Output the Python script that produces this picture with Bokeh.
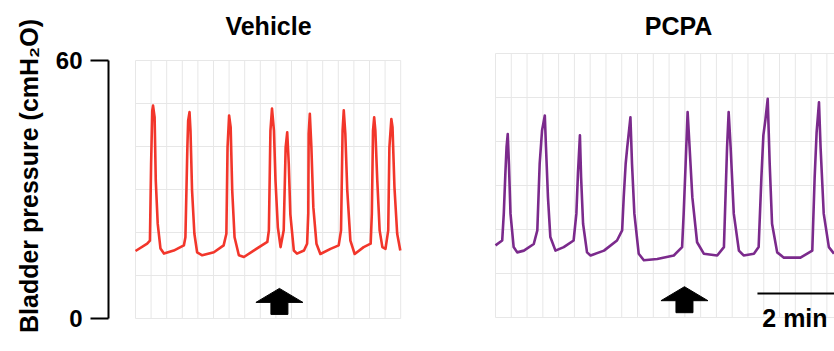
from bokeh.plotting import figure
from bokeh.models import FixedTicker, Label, Range1d
from bokeh.embed import file_html
from bokeh.resources import INLINE

# ---------------- data (time in min, bladder pressure in cmH2O) ----------------
vehicle_time = [0.00, 0.30, 0.37, 0.40, 0.43, 0.45, 0.49, 0.52, 0.57, 0.64, 0.73, 0.98,
                1.24, 1.28, 1.33, 1.35, 1.385, 1.41, 1.45, 1.51, 1.58, 1.71, 2.01,
                2.26, 2.33, 2.36, 2.40, 2.44, 2.48, 2.54, 2.65, 2.78, 3.03,
                3.38, 3.42, 3.46, 3.50, 3.55, 3.59, 3.65, 3.72,
                3.80, 3.85, 3.89, 3.93, 3.97, 4.06, 4.14, 4.32,
                4.40, 4.43, 4.44, 4.47, 4.51, 4.56, 4.64, 4.74, 5.00,
                5.21, 5.27, 5.31, 5.34, 5.38, 5.43, 5.51, 5.62, 5.85,
                6.03, 6.06, 6.09, 6.12, 6.15, 6.20, 6.26, 6.33, 6.41,
                6.48, 6.51, 6.56, 6.59, 6.64, 6.71, 6.79]
vehicle_pressure = [15.7, 17.4, 18.1, 36.0, 48.4, 49.5, 46.8, 32.0, 22.0, 16.3, 15.1, 15.8,
                    17.0, 18.9, 39.8, 46.0, 48.0, 43.7, 29.8, 19.7, 15.4, 14.7, 15.4,
                    17.0, 19.7, 39.8, 47.2, 44.5, 29.8, 18.9, 14.7, 14.3, 15.8,
                    17.8, 20.5, 43.7, 48.8, 43.7, 32.0, 21.2, 16.6,
                    20.5, 39.8, 43.3, 36.0, 24.3, 15.8, 15.1, 15.8,
                    17.4, 24.4, 43.0, 47.6, 39.8, 25.9, 17.4, 15.0, 16.2,
                    17.0, 20.5, 43.7, 48.4, 43.0, 29.8, 18.1, 15.0, 16.6,
                    17.4, 24.4, 43.7, 46.8, 43.7, 32.0, 20.5, 16.6, 16.2,
                    20.5, 39.8, 46.4, 44.5, 30.5, 19.7, 15.8]

pcpa_time = [0.00, 0.17, 0.21, 0.25, 0.28, 0.31, 0.34, 0.38, 0.46, 0.55, 0.72, 0.97,
             1.06, 1.12, 1.18, 1.25, 1.28, 1.33, 1.39, 1.52, 1.73, 1.98,
             2.05, 2.09, 2.14, 2.17, 2.22, 2.32, 2.41, 2.75, 3.08, 3.21,
             3.25, 3.30, 3.34, 3.42, 3.46, 3.52, 3.63, 3.76, 4.10, 4.52, 4.73,
             4.77, 4.82, 4.87, 4.92, 4.99, 5.11, 5.28, 5.62, 5.79,
             5.83, 5.87, 5.91, 5.96, 6.04, 6.17, 6.29, 6.55, 6.67,
             6.74, 6.79, 6.84, 6.90, 6.95, 7.01, 7.14, 7.31, 7.73, 8.03,
             8.09, 8.14, 8.20, 8.24, 8.32, 8.45, 8.58]
pcpa_pressure = [16.4, 17.5, 23.6, 32.7, 38.7, 41.7, 35.0, 23.6, 16.0, 14.8, 15.2, 16.7,
                 19.8, 35.0, 42.5, 45.9, 38.7, 27.3, 18.3, 15.2, 16.0, 17.5,
                 23.6, 32.7, 41.4, 31.8, 21.3, 14.8, 14.1, 15.2, 17.5, 19.8,
                 27.3, 35.0, 38.7, 45.5, 35.0, 23.6, 14.5, 13.0, 13.3, 14.1, 16.0,
                 23.6, 35.0, 46.7, 38.7, 27.3, 17.1, 14.5, 14.1, 16.0,
                 27.3, 38.7, 46.7, 38.7, 23.6, 15.2, 14.1, 14.5, 16.0,
                 31.8, 41.4, 44.8, 49.7, 35.0, 21.3, 14.8, 13.6, 13.6, 15.2,
                 31.8, 42.1, 48.9, 38.7, 23.6, 16.0, 14.5]

panel_titles = ["Vehicle", "PCPA"]
title_time = [3.41, 4.64]         # title centre (min) per panel
drug_time = [3.69, 4.79]          # arrow position (min) per panel
y_ticks = [0, 60]
grid_step_time = 0.4              # min per grid cell
grid_step_pressure = 10
scale_bar_start = 6.64
scale_bar_length = 2.0            # min
scale_bar_text = "2 min"

RED = "#f2362b"
PURPLE = "#7b2a8c"
GRID = "#e7e7e7"
FONT = "Liberation Sans"
CANVAS_H = 351
FRAME_LEFT = 108
FRAME_W = 834 - FRAME_LEFT

# panel geometry (pixels)
L_PX_MIN, L_PX_UNIT, L_ZERO_X, L_ZERO_Y = 39.0, 4.3, 135, 318
R_PX_MIN, R_PX_UNIT, R_ZERO_X, R_ZERO_Y = 39.45, 4.4, 495, 317


def x_range_for(px_min, zero_x):
    lo = -(zero_x - FRAME_LEFT) / px_min
    return Range1d(lo, lo + FRAME_W / px_min)


def y_range_for(px_unit, zero_y):
    lo = -(CANVAS_H - zero_y) / px_unit
    return Range1d(lo, lo + CANVAS_H / px_unit)


p = figure(frame_width=FRAME_W, frame_height=CANVAS_H,
           x_range=x_range_for(L_PX_MIN, L_ZERO_X),
           y_range=y_range_for(L_PX_UNIT, L_ZERO_Y),
           x_axis_location=None, y_axis_location="left",
           toolbar_location=None, output_backend="svg",
           min_border_left=FRAME_LEFT, min_border_right=0,
           min_border_top=0, min_border_bottom=0,
           background_fill_color="white", border_fill_color="white")
p.extra_x_ranges = {"rx": x_range_for(R_PX_MIN, R_ZERO_X)}
p.extra_y_ranges = {"ry": y_range_for(R_PX_UNIT, R_ZERO_Y)}
p.outline_line_color = None
p.xgrid.visible = False
p.ygrid.visible = False


def draw_panel(t, pr, color, title, title_t, arrow_t, px_min, px_unit, t_end, xr, yr):
    names = dict(x_range_name=xr, y_range_name=yr)
    # chart-recorder grid
    n_cols = int(round(t_end / grid_step_time))
    gx = [k * grid_step_time for k in range(n_cols + 1)]
    p.segment(x0=gx, y0=[0] * len(gx), x1=gx, y1=[60] * len(gx),
              line_color=GRID, line_width=1, level="underlay", **names)
    gy = list(range(0, 61, grid_step_pressure))
    p.segment(x0=[0] * len(gy), y0=gy, x1=[t_end] * len(gy), y1=gy,
              line_color=GRID, line_width=1, level="underlay", **names)
    # trace
    p.line(t, pr, line_color=color, line_width=2.6, line_join="round", **names)
    # arrow (drug administration)
    tip = 7.0
    hw, hh, sw, sh = 23.5, 14.0, 8.5, 12.0
    dx = [0, hw, sw, sw, -sw, -sw, -hw]
    dy = [0, hh, hh, hh + sh, hh + sh, hh, hh]
    p.patch([arrow_t + d / px_min for d in dx], [tip - d / px_unit for d in dy],
            fill_color="black", line_color="black", line_width=1, line_join="round",
            **names)
    # title, 25 px from the top of the canvas
    zero_y = L_ZERO_Y if yr == "default" else R_ZERO_Y
    p.add_layout(Label(x=title_t, y=(zero_y - 25.0) / px_unit, text=title,
                       text_font=FONT, text_font_style="bold", text_font_size="25px",
                       text_align="center", text_baseline="middle", text_color="black",
                       **names))


draw_panel(vehicle_time, vehicle_pressure, RED, panel_titles[0], title_time[0],
           drug_time[0], L_PX_MIN, L_PX_UNIT, 6.8, "default", "default")
draw_panel(pcpa_time, pcpa_pressure, PURPLE, panel_titles[1], title_time[1],
           drug_time[1], R_PX_MIN, R_PX_UNIT, 8.8, "rx", "ry")

# scale bar on the PCPA panel
p.segment(x0=[scale_bar_start], y0=[5.45], x1=[scale_bar_start + scale_bar_length],
          y1=[5.45], line_color="black", line_width=2, x_range_name="rx",
          y_range_name="ry")
p.add_layout(Label(x=scale_bar_start + 0.95, y=-0.2, text=scale_bar_text,
                   text_font=FONT, text_font_style="bold", text_font_size="25px",
                   text_align="center", text_baseline="middle", text_color="black",
                   x_range_name="rx", y_range_name="ry"))

# bracket-style pressure axis
ax = p.yaxis[0]
ax.ticker = FixedTicker(ticks=y_ticks)
ax.bounds = (0, 60)
ax.axis_line_color = "black"
ax.axis_line_width = 2
ax.major_tick_line_color = "black"
ax.major_tick_line_width = 2
ax.major_tick_out = 18
ax.major_tick_in = 0
ax.minor_tick_line_color = None
ax.major_label_text_font = FONT
ax.major_label_text_font_style = "bold"
ax.major_label_text_font_size = "24px"
ax.major_label_text_color = "black"
ax.major_label_standoff = 8
ax.axis_label = "Bladder pressure (cmH\u2082O)"
ax.axis_label_text_font = FONT
ax.axis_label_text_font_style = "bold"
ax.axis_label_text_font_size = "25px"
ax.axis_label_text_color = "black"
ax.axis_label_standoff = 10

open("out.html", "w").write(file_html(p, INLINE))
